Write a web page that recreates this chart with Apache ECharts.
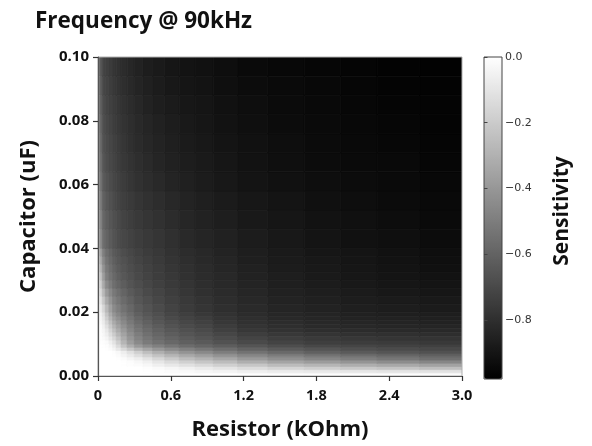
<!DOCTYPE html>
<html>
<head>
<meta charset="utf-8">
<script src="https://cdn.jsdelivr.net/npm/echarts@6/dist/echarts.min.js"></script>
<style>
html,body{margin:0;padding:0;background:#fff;}
#chart{width:592px;height:446px;}
</style>
</head>
<body>
<div id="chart"></div>
<script>
// Resistor cell edges (kOhm), 22 columns
const rEdges = [0, 0.015, 0.035, 0.06, 0.09, 0.12, 0.15, 0.19, 0.24, 0.3, 0.37, 0.45, 0.55, 0.67, 0.8, 0.95, 1.15, 1.4, 1.7, 2.0, 2.3, 2.65, 3.0];
// Capacitor cell edges (uF), 36 rows
const cEdges = [0, 0.001, 0.002, 0.003, 0.004, 0.005, 0.006, 0.007, 0.008, 0.009, 0.01,
  0.01125, 0.0125, 0.01375, 0.015, 0.01625, 0.0175, 0.01875, 0.02,
  0.0225, 0.025, 0.0275, 0.03, 0.0325, 0.035, 0.0375, 0.04,
  0.046, 0.052, 0.058, 0.064, 0.07, 0.076, 0.082, 0.088, 0.094, 0.1];
// Sensitivity, one row per capacitor cell (bottom to top), one entry per resistor cell
const sens = [
  [0,0,0,0,0,0,0,0,0,0,0,0,0,0,0,0,-0.005,-0.007,-0.008,-0.008,-0.009,-0.01],
  [0,0,0,0,0,0,0,0,0,0,-0.003,-0.008,-0.016,-0.023,-0.034,-0.046,-0.06,-0.075,-0.086,-0.095,-0.104,-0.113],
  [0,0,0,0,0,0,0,0,0,0,-0.006,-0.018,-0.035,-0.052,-0.076,-0.103,-0.133,-0.167,-0.19,-0.21,-0.23,-0.25],
  [0,0,0,0,0,0,0,-0.002,-0.006,-0.014,-0.032,-0.056,-0.087,-0.117,-0.147,-0.181,-0.219,-0.259,-0.286,-0.31,-0.334,-0.358],
  [0,0,0,0,0,0,0,-0.004,-0.013,-0.029,-0.057,-0.095,-0.138,-0.182,-0.218,-0.259,-0.306,-0.35,-0.382,-0.41,-0.438,-0.466],
  [0,0,0,0,0,-0.001,-0.005,-0.017,-0.037,-0.066,-0.106,-0.153,-0.204,-0.254,-0.293,-0.338,-0.387,-0.432,-0.466,-0.495,-0.523,-0.55],
  [0,0,0,0,0,-0.004,-0.016,-0.042,-0.078,-0.125,-0.177,-0.23,-0.284,-0.334,-0.373,-0.418,-0.464,-0.505,-0.538,-0.565,-0.589,-0.61],
  [0,0,0,0,0,-0.006,-0.027,-0.067,-0.12,-0.185,-0.248,-0.308,-0.364,-0.414,-0.453,-0.498,-0.541,-0.577,-0.61,-0.635,-0.655,-0.67],
  [0,0,-0.001,-0.004,-0.016,-0.037,-0.083,-0.146,-0.218,-0.288,-0.347,-0.399,-0.446,-0.489,-0.522,-0.56,-0.598,-0.629,-0.656,-0.675,-0.69,-0.702],
  [0,0,-0.002,-0.008,-0.032,-0.068,-0.14,-0.225,-0.315,-0.391,-0.446,-0.49,-0.528,-0.564,-0.591,-0.622,-0.655,-0.682,-0.702,-0.715,-0.725,-0.734],
  [0,-0.002,-0.008,-0.021,-0.058,-0.106,-0.189,-0.283,-0.378,-0.454,-0.507,-0.546,-0.58,-0.612,-0.636,-0.664,-0.695,-0.719,-0.736,-0.746,-0.754,-0.761],
  [0,-0.005,-0.019,-0.044,-0.094,-0.151,-0.232,-0.319,-0.407,-0.478,-0.528,-0.567,-0.601,-0.632,-0.656,-0.687,-0.718,-0.742,-0.758,-0.768,-0.776,-0.782],
  [0,-0.008,-0.029,-0.066,-0.13,-0.195,-0.275,-0.354,-0.435,-0.501,-0.549,-0.587,-0.622,-0.652,-0.676,-0.71,-0.741,-0.764,-0.78,-0.79,-0.797,-0.803],
  [0,-0.011,-0.04,-0.089,-0.166,-0.24,-0.318,-0.39,-0.464,-0.525,-0.57,-0.608,-0.643,-0.672,-0.696,-0.733,-0.764,-0.787,-0.802,-0.812,-0.819,-0.824],
  [-0.001,-0.016,-0.055,-0.118,-0.204,-0.283,-0.357,-0.423,-0.49,-0.547,-0.589,-0.627,-0.661,-0.69,-0.714,-0.75,-0.78,-0.803,-0.817,-0.827,-0.834,-0.839],
  [-0.003,-0.025,-0.074,-0.153,-0.243,-0.324,-0.393,-0.453,-0.514,-0.568,-0.608,-0.644,-0.677,-0.706,-0.73,-0.763,-0.79,-0.812,-0.826,-0.835,-0.843,-0.848],
  [-0.005,-0.033,-0.094,-0.188,-0.283,-0.365,-0.428,-0.482,-0.538,-0.589,-0.626,-0.661,-0.694,-0.723,-0.747,-0.775,-0.801,-0.821,-0.834,-0.844,-0.851,-0.857],
  [-0.007,-0.042,-0.113,-0.223,-0.322,-0.406,-0.464,-0.512,-0.562,-0.61,-0.645,-0.678,-0.71,-0.739,-0.763,-0.788,-0.811,-0.83,-0.843,-0.852,-0.86,-0.866],
  [-0.012,-0.065,-0.152,-0.27,-0.365,-0.444,-0.497,-0.541,-0.586,-0.629,-0.662,-0.693,-0.724,-0.752,-0.776,-0.798,-0.82,-0.838,-0.851,-0.86,-0.869,-0.875],
  [-0.02,-0.104,-0.21,-0.33,-0.412,-0.48,-0.528,-0.568,-0.609,-0.648,-0.678,-0.706,-0.735,-0.762,-0.785,-0.806,-0.827,-0.845,-0.858,-0.868,-0.878,-0.885],
  [-0.028,-0.142,-0.269,-0.39,-0.458,-0.516,-0.559,-0.596,-0.633,-0.666,-0.694,-0.72,-0.746,-0.772,-0.794,-0.813,-0.835,-0.853,-0.866,-0.876,-0.887,-0.895],
  [-0.036,-0.181,-0.327,-0.45,-0.505,-0.552,-0.59,-0.623,-0.656,-0.685,-0.71,-0.733,-0.757,-0.782,-0.803,-0.821,-0.842,-0.86,-0.873,-0.884,-0.896,-0.905],
  [-0.058,-0.223,-0.376,-0.492,-0.538,-0.578,-0.613,-0.644,-0.674,-0.699,-0.722,-0.744,-0.765,-0.79,-0.81,-0.828,-0.849,-0.866,-0.879,-0.89,-0.902,-0.912],
  [-0.093,-0.268,-0.415,-0.515,-0.558,-0.596,-0.629,-0.657,-0.685,-0.709,-0.731,-0.751,-0.772,-0.797,-0.816,-0.834,-0.854,-0.871,-0.884,-0.895,-0.907,-0.917],
  [-0.128,-0.313,-0.453,-0.538,-0.577,-0.612,-0.644,-0.67,-0.696,-0.719,-0.739,-0.758,-0.779,-0.803,-0.821,-0.839,-0.859,-0.876,-0.889,-0.9,-0.912,-0.922],
  [-0.163,-0.358,-0.492,-0.56,-0.596,-0.629,-0.659,-0.683,-0.707,-0.729,-0.748,-0.766,-0.786,-0.81,-0.827,-0.845,-0.863,-0.881,-0.894,-0.905,-0.916,-0.927],
  [-0.224,-0.436,-0.559,-0.6,-0.63,-0.658,-0.686,-0.706,-0.726,-0.746,-0.762,-0.778,-0.797,-0.821,-0.837,-0.855,-0.872,-0.889,-0.902,-0.913,-0.924,-0.935],
  [-0.254,-0.466,-0.583,-0.622,-0.648,-0.674,-0.701,-0.721,-0.741,-0.761,-0.777,-0.793,-0.811,-0.833,-0.848,-0.866,-0.882,-0.897,-0.91,-0.92,-0.93,-0.94],
  [-0.285,-0.496,-0.606,-0.644,-0.667,-0.69,-0.717,-0.736,-0.756,-0.776,-0.792,-0.808,-0.826,-0.846,-0.859,-0.877,-0.892,-0.905,-0.917,-0.927,-0.936,-0.946],
  [-0.316,-0.526,-0.63,-0.666,-0.686,-0.706,-0.732,-0.751,-0.771,-0.791,-0.807,-0.823,-0.841,-0.858,-0.871,-0.888,-0.902,-0.914,-0.925,-0.934,-0.942,-0.951],
  [-0.342,-0.552,-0.65,-0.684,-0.702,-0.72,-0.745,-0.764,-0.784,-0.804,-0.82,-0.836,-0.853,-0.869,-0.88,-0.897,-0.91,-0.921,-0.932,-0.94,-0.947,-0.956],
  [-0.36,-0.569,-0.663,-0.695,-0.712,-0.731,-0.755,-0.774,-0.794,-0.814,-0.83,-0.845,-0.861,-0.876,-0.887,-0.903,-0.916,-0.926,-0.936,-0.944,-0.952,-0.96],
  [-0.378,-0.586,-0.676,-0.706,-0.723,-0.741,-0.764,-0.783,-0.803,-0.823,-0.839,-0.854,-0.87,-0.884,-0.894,-0.909,-0.922,-0.932,-0.941,-0.948,-0.956,-0.963],
  [-0.395,-0.603,-0.689,-0.717,-0.733,-0.751,-0.773,-0.792,-0.812,-0.832,-0.848,-0.863,-0.878,-0.892,-0.901,-0.916,-0.928,-0.937,-0.946,-0.953,-0.96,-0.966],
  [-0.413,-0.62,-0.702,-0.728,-0.744,-0.761,-0.783,-0.802,-0.822,-0.842,-0.858,-0.872,-0.886,-0.899,-0.908,-0.922,-0.934,-0.943,-0.951,-0.957,-0.964,-0.97],
  [-0.431,-0.637,-0.714,-0.739,-0.754,-0.771,-0.792,-0.811,-0.831,-0.851,-0.867,-0.881,-0.895,-0.907,-0.915,-0.928,-0.94,-0.948,-0.956,-0.962,-0.968,-0.973]
];
const sensMin = -0.98;
const sensMax = 0;
const colorbarTicks = [0, -0.2, -0.4, -0.6, -0.8];

const cells = [];
for (let i = 0; i < sens.length; i++) {
  for (let j = 0; j < sens[i].length; j++) {
    cells.push([rEdges[j], rEdges[j + 1], cEdges[i], cEdges[i + 1], sens[i][j]]);
  }
}

const chart = echarts.init(document.getElementById('chart'), null, {renderer: 'canvas'});
const boldFont = "'Open Sans', 'Noto Sans', sans-serif";
const option = {
  animation: false,
  backgroundColor: '#fff',
  title: {
    text: 'Frequency @ 90kHz',
    left: 30, top: 5,
    textStyle: {fontFamily: boldFont, fontWeight: 'bold', fontSize: 22.5, color: '#111'}
  },
  grid: [
    {left: 98, top: 57, width: 364, height: 322, show: true, borderColor: '#b0b0b0', borderWidth: 1, z: 3},
    {left: 484, top: 57, width: 18, height: 322, show: true, borderColor: '#444', borderWidth: 1, backgroundColor: 'transparent', z: 10}
  ],
  xAxis: [
    {
      type: 'value', gridIndex: 0, min: 0, max: 3, interval: 0.6, z: 5,
      name: 'Resistor (kOhm)', nameLocation: 'middle', nameGap: 43,
      nameTextStyle: {fontFamily: boldFont, fontWeight: 'bold', fontSize: 22, color: '#111'},
      axisLine: {onZero: false, lineStyle: {color: '#555', width: 1.2}},
      axisTick: {length: 5, lineStyle: {color: '#333', width: 1.2}},
      axisLabel: {margin: 12, fontFamily: boldFont, fontWeight: 'bold', fontSize: 14.5, color: '#111',
        formatter: v => v === 0 ? '0' : v.toFixed(1)},
      splitLine: {show: false}
    },
    {type: 'value', gridIndex: 1, min: 0, max: 1, show: false}
  ],
  yAxis: [
    {
      type: 'value', gridIndex: 0, min: 0, max: 0.1, interval: 0.02, z: 5,
      name: 'Capacitor (uF)', nameLocation: 'middle', nameGap: 58,
      nameTextStyle: {fontFamily: boldFont, fontWeight: 'bold', fontSize: 22, color: '#111'},
      axisLine: {onZero: false, lineStyle: {color: '#555', width: 1.2}},
      axisTick: {length: 5, lineStyle: {color: '#333', width: 1.2}},
      axisLabel: {margin: 9, fontFamily: boldFont, fontWeight: 'bold', fontSize: 15, color: '#111',
        formatter: v => v.toFixed(2)},
      splitLine: {show: false}
    },
    {
      type: 'value', gridIndex: 1, min: sensMin, max: sensMax, position: 'right', z: 11,
      name: 'Sensitivity', nameLocation: 'middle', nameGap: 50, nameRotate: 90,
      nameTextStyle: {fontFamily: boldFont, fontWeight: 'bold', fontSize: 21, color: '#111', padding: [0, 0, 0, 14]},
      axisLine: {show: false},
      axisTick: {show: true, length: 3.5, lineStyle: {color: '#444'}, customValues: colorbarTicks},
      axisLabel: {show: true, margin: 3, fontFamily: "'DejaVu Sans', sans-serif", fontSize: 11, color: '#333',
        customValues: colorbarTicks,
        formatter: v => (v < 0 ? '\u2212' : '') + Math.abs(v).toFixed(1)},
      splitLine: {show: false}
    }
  ],
  visualMap: {
    type: 'continuous', min: sensMin, max: sensMax, dimension: 4, seriesIndex: 0,
    calculable: false, hoverLink: false, orient: 'vertical',
    left: 484, top: 57, itemWidth: 18, itemHeight: 322, padding: 0,
    text: null, showLabel: false,
    inRange: {color: ['#000000', '#ffffff']}
  },
  series: [{
    type: 'custom',
    xAxisIndex: 0, yAxisIndex: 0,
    clip: true,
    data: cells,
    encode: {x: [0, 1], y: [2, 3]},
    renderItem: function (params, api) {
      const p0 = api.coord([api.value(0), api.value(3)]);
      const p1 = api.coord([api.value(1), api.value(2)]);
      const color = api.visual('color');
      return {
        type: 'rect',
        shape: {x: p0[0], y: p0[1], width: p1[0] - p0[0], height: p1[1] - p0[1]},
        style: {fill: color, stroke: color, lineWidth: 0.8}
      };
    }
  }]
};
chart.setOption(option);
</script>
</body>
</html>
